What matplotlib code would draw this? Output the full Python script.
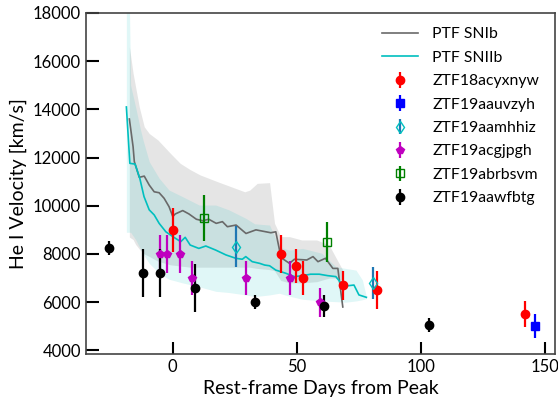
import matplotlib
matplotlib.use("Agg")
import matplotlib.pyplot as plt

plt.rcParams['font.family'] = ['Lato', 'DejaVu Sans']

# PTF SNIb mean He I velocity and band
days_ib = [-17.5, -16, -15.5, -13.5, -11.5, -9.5, -7.5, -5.5, -3.5, -1.5, 0, 1, 4, 6.5, 9.5,
           12, 14.5, 17.5, 20, 22, 25.5, 29.5, 33.5, 39.5, 41.5, 43, 44, 47, 49, 54,
           56.5, 58.5, 61.5, 64.5, 66.5, 68.5]
mean_ib = [13600, 12450, 11830, 11180, 11230, 10860, 10580, 10540, 10310, 9960, 9550, 9660, 9800, 9660, 9440,
           9380, 9440, 9270, 9340, 9130, 9200, 8850, 9000, 8880, 8920, 8160, 7820, 7610, 7780, 7750,
           7890, 7680, 7820, 7400, 7400, 5800]
band_ib_days = [-17.5, -16, -15, -13.5, -11.5, -9.5, -6, -1, 3, 7, 11, 18, 23.5, 29, 31, 34, 39,
                41, 43.5, 47, 52, 58, 63, 65.5, 68.5]
hi_ib = [16600, 15500, 14940, 14100, 13280, 13000, 12730, 12180, 11760, 11500, 11280, 11000, 10790, 10580,
         10650, 10930, 10960, 9270, 8720, 8720, 8580, 8580, 8370, 7890, 7330]
lo_ib = [8700, 8600, 8400, 8200, 8000, 7900, 7700, 7550, 7500, 7450, 7450, 7450, 7450, 7450,
         7450, 7400, 7350, 7300, 6900, 6800, 6800, 6850, 7000, 7000, 6900]

# PTF SNIIb mean He I velocity and band
days_iib = [-18.7, -17.3, -15.2, -13.3, -11.6, -9.5, -7.5, -5.5, -2.8, 0, 3.2, 5, 7, 10.5, 13.3,
            17.3, 21.4, 25.4, 28, 29.4, 32, 35, 37, 39, 41.5, 45.5, 49, 52.3, 55.5, 59,
            62.4, 65.7, 68.4, 70.5, 73, 75, 78]
mean_iib = [14100, 11760, 11730, 11140, 10380, 9830, 9620, 9270, 8920, 8720, 8510, 8690, 8370, 8230, 8330,
            8160, 7960, 7820, 7780, 7890, 7680, 7610, 7540, 7510, 7330, 7200, 7060, 7100, 7160, 7160,
            7100, 7060, 6710, 6680, 6710, 6300, 6200]
band_iib_days = [-18.7, -17.5, -17, -15, -13, -12, -9.5, -5.5, -1.5, 3.9, 10.6, 17.3, 22.6, 29.4,
                 33, 39, 42.9, 46.9, 52.3, 60, 65.7, 69.7, 73.8, 76.4, 78]
hi_iib = [19000, 18500, 15000, 14100, 13150, 12730, 11830, 11140, 10650, 10380, 10030, 10030, 9830, 9480,
          9250, 9200, 8290, 8160, 8230, 8030, 7470, 7400, 7330, 6920, 6230]
lo_iib = [8900, 8900, 8900, 8600, 8200, 8000, 7610, 7200, 6950, 6800, 6640, 6450, 6400, 6300,
          6230, 6300, 6370, 6250, 6120, 6050, 6020, 6000, 6050, 6100, 6150]

# ZTF objects: (days, velocity, error)
t_18acyxnyw = [0, 43.4, 49.7, 52.5, 68.7, 82.4, 142]
v_18acyxnyw = [9000, 8000, 7500, 7000, 6700, 6500, 5500]
e_18acyxnyw = [900, 800, 700, 700, 600, 800, 550]

t_19aauvzyh = [145.8]
v_19aauvzyh = [5000]
e_19aauvzyh = [500]

t_19aamhhiz = [25.4, 80.6]
v_19aamhhiz = [8300, 6800]
e_19aamhhiz = [850, 650]

t_19acgjpgh = [-5.2, -2.4, 3.1, 7.9, 29.3, 47.3, 59.4]
v_19acgjpgh = [8000, 8000, 8000, 7000, 7000, 7000, 6000]
e_19acgjpgh = [800, 800, 800, 700, 700, 700, 600]

t_19abrbsvm = [12.4, 62.2]
v_19abrbsvm = [9500, 8500]
e_19abrbsvm = [950, 830]

t_19aawfbtg = [-25.9, -12, -5, 9, 33, 61, 103.2]
v_19aawfbtg = [8250, 7200, 7200, 6600, 6000, 5850, 5050]
e_19aawfbtg = [280, 1000, 1000, 1000, 300, 450, 300]

fig = plt.figure(figsize=(5.58, 4.05), dpi=100)
ax = fig.add_axes([0.154, 0.126, 0.8406, 0.842])

ax.fill_between(band_ib_days, lo_ib, hi_ib, color='grey', alpha=0.2, lw=0)
ax.fill_between(band_iib_days, lo_iib, hi_iib, color='c', alpha=0.12, lw=0)
ax.plot(days_ib, mean_ib, color='dimgrey', lw=1.2, label='PTF SNIb')
ax.plot(days_iib, mean_iib, color='c', lw=1.2, label='PTF SNIIb')

ekw = dict(ls='none', elinewidth=1.6, capsize=0, markersize=6)
ax.errorbar(t_18acyxnyw, v_18acyxnyw, yerr=e_18acyxnyw, fmt='o', color='r', label='ZTF18acyxnyw', **ekw)
ax.errorbar(t_19aauvzyh, v_19aauvzyh, yerr=e_19aauvzyh, fmt='s', color='b', label='ZTF19aauvzyh', **ekw)
ax.errorbar(t_19aamhhiz, v_19aamhhiz, yerr=e_19aamhhiz, fmt='d', color='tab:blue', mec='c', mfc='none',
            label='ZTF19aamhhiz', **ekw)
ax.errorbar(t_19acgjpgh, v_19acgjpgh, yerr=e_19acgjpgh, fmt='p', color='m', label='ZTF19acgjpgh', **ekw)
ax.errorbar(t_19abrbsvm, v_19abrbsvm, yerr=e_19abrbsvm, fmt='s', color='g', mfc='none',
            label='ZTF19abrbsvm', **ekw)
ax.errorbar(t_19aawfbtg, v_19aawfbtg, yerr=e_19aawfbtg, fmt='o', color='k', label='ZTF19aawfbtg', **ekw)

ax.set_xlim(-35, 154)
ax.set_ylim(3850, 18000)
ax.set_xticks([0, 50, 100, 150])
ax.set_yticks(range(4000, 18001, 2000))
ax.tick_params(direction='in', length=9, width=1.5, labelsize=12, top=False, right=False)
for s in ax.spines.values():
    s.set_color('#444444')
    s.set_linewidth(1.2)

ax.set_xlabel('Rest-frame Days from Peak', fontsize=14)
ax.set_ylabel('He I Velocity [km/s]', fontsize=14)
ax.legend(loc='upper right', bbox_to_anchor=(0.99, 0.99), frameon=False, fontsize=11.3,
          handlelength=2.3, handletextpad=0.9, borderaxespad=0.3, labelspacing=0.6)

fig.savefig('out.png', dpi=100)
